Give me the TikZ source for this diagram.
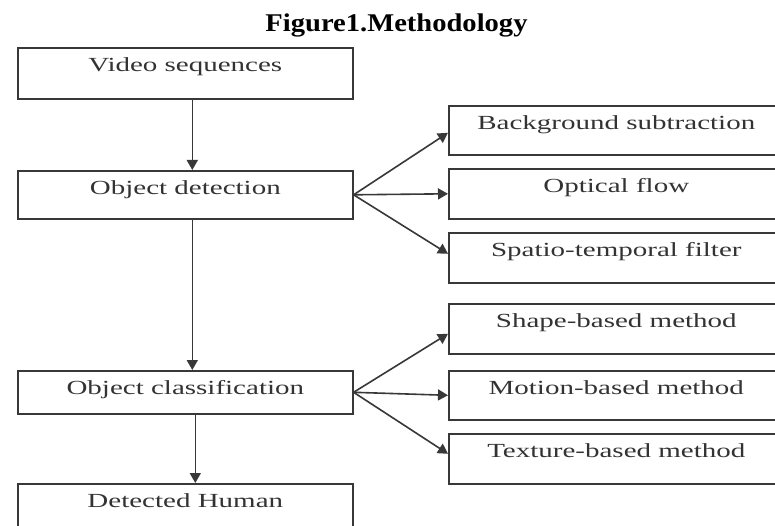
\documentclass[tikz,border=0pt]{standalone}
\usepackage{fontspec}
\usetikzlibrary{arrows.meta}
\newfontfamily\boxfont[FakeStretch=1.45]{Liberation Serif}
\newfontfamily\titlefont[FakeStretch=1.12]{Liberation Serif}
\definecolor{linegray}{HTML}{383838}
\definecolor{textgray}{HTML}{333333}
\tikzset{
  stage/.style={draw=linegray, line width=1.6pt, minimum width=335pt, inner sep=0pt,
    anchor=north west, text height=24pt, text depth=#1, text=textgray,
    font=\boxfont\fontsize{20}{24}\selectfont},
  stage/.default=26pt,
  arr/.style={draw=linegray, line width=1.6pt, -{Triangle[length=10pt,width=11pt]}}
}
\begin{document}
\begin{tikzpicture}[x=1pt,y=-1pt]
	\useasboundingbox (0,0) rectangle (775,526);
	\clip (0,0) rectangle (775,526);
	\fill[white] (0,0) rectangle (775,526);
	\node[anchor=base, font=\titlefont\bfseries\fontsize{25.5}{30}\selectfont] (title) at (396.5,32) {Figure1.Methodology};
	% main column
	\node[stage=27pt] (vid) at (17,47) {Video sequences};
	\node[stage=24pt] (det) at (17,170) {Object detection};
	\node[stage=19pt] (cls) at (17,370) {Object classification};
	\node[stage=36pt] (hum) at (17,483) {Detected Human};
	% methods
	\node[stage=25pt] (bg) at (448,105) {Background subtraction};
	\node[stage] (of) at (448,168) {Optical flow};
	\node[stage] (st) at (448,232) {Spatio-temporal filter};
	\node[stage] (sh) at (448,303) {Shape-based method};
	\node[stage=25pt] (mo) at (448,370) {Motion-based method};
	\node[stage] (tx) at (448,433) {Texture-based method};
	\draw[arr] ([xshift=7pt]vid.south) -- ([xshift=7pt]det.north);
	\draw[arr] ([xshift=7pt]det.south) -- ([xshift=7pt]cls.north);
	\draw[arr] ([xshift=10pt]cls.south) -- ([xshift=10pt]hum.north);
	\foreach \t/\s in {bg/-2.5, of/0, st/4} {
		\draw[arr] (det.east) -- ([yshift=\s pt]\t.west);
	};
	\foreach \t/\s in {sh/-5, mo/0, tx/5} {
		\draw[arr] (cls.east) -- ([yshift=\s pt]\t.west);
	};
\end{tikzpicture}
\end{document}
